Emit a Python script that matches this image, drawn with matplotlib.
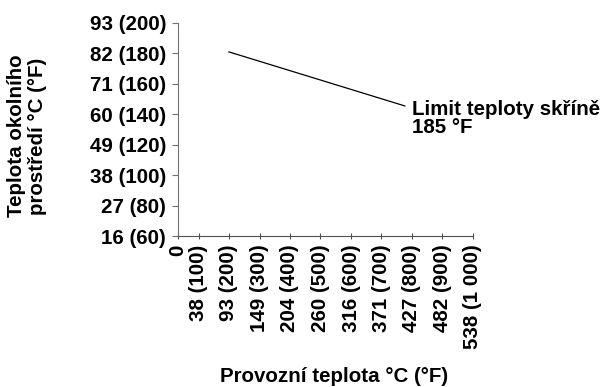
import matplotlib.pyplot as plt

plt.rcParams['font.family'] = ['Liberation Sans', 'DejaVu Sans']
plt.rcParams['font.weight'] = 'bold'

# x axis: operating temperature, positions in degC
x_ticks_c = [0, 38, 93, 149, 204, 260, 316, 371, 427, 482, 538]
x_labels = ['0', '38 (100)', '93 (200)', '149 (300)', '204 (400)', '260 (500)',
            '316 (600)', '371 (700)', '427 (800)', '482 (900)', '538 (1 000)']

# y axis: ambient temperature, positions in degF
y_ticks_f = [60, 80, 100, 120, 140, 160, 180, 200]
y_labels = ['16 (60)', '27 (80)', '38 (100)', '49 (120)', '60 (140)',
            '71 (160)', '82 (180)', '93 (200)']

# enclosure limit line
limit_x_c = [93, 414]
limit_y_f = [181, 145.5]

fs = 14.8

fig = plt.figure(figsize=(6.08, 3.87), dpi=100)
ax = fig.add_axes([178 / 608, 1 - 236 / 387, (472.7 - 178) / 608, (236 - 23) / 387])

ax.plot(limit_x_c, limit_y_f, color='black', linewidth=0.9)
fig.text(412.5 / 608, 1 - 100 / 387, 'Limit teploty skříně\n185 °F', fontsize=fs,
         fontweight='bold', ha='left', va='top', linespacing=0.95)

ax.set_xlim(0, 538)
ax.set_ylim(60, 200)
ax.set_xticks(x_ticks_c)
ax.set_xticklabels(x_labels, rotation=90, fontsize=fs, fontweight='bold')
ax.set_yticks(y_ticks_f)
ax.set_yticklabels(y_labels, fontsize=fs, fontweight='bold')

for s in ['top', 'right']:
    ax.spines[s].set_visible(False)
ax.spines['left'].set_color('#707070')
ax.spines['bottom'].set_color('#505050')
ax.tick_params(axis='x', direction='inout', length=5, width=0.8, color='#505050', pad=3.5)
ax.tick_params(axis='y', direction='out', length=4, width=0.8, color='#707070', pad=4.5)

fig.text(334.5 / 608, 1 - 377 / 387, 'Provozní teplota °C (°F)', fontsize=fs,
         fontweight='bold', ha='center', va='center')
fig.text(27 / 608, 1 - 136 / 387, 'Teplota okolního\nprostředí °C (°F)', fontsize=fs,
         fontweight='bold', ha='center', va='center', rotation=90, linespacing=1.1)

fig.savefig('out.png', dpi=100)
